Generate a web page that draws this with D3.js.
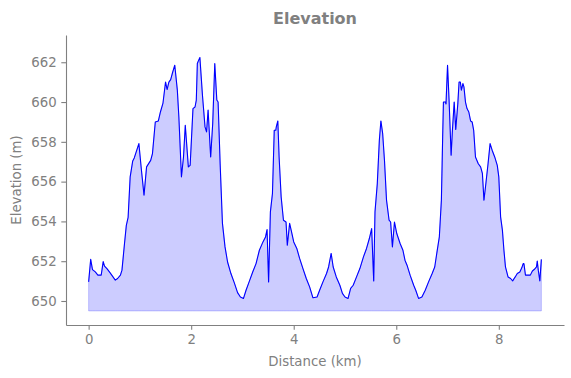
<!DOCTYPE html>
<html>
<head>
<meta charset="utf-8">
<script src="https://cdn.jsdelivr.net/npm/d3@7"></script>
<style>
  html, body { margin: 0; padding: 0; background: #fff; }
  svg { display: block; font-family: "DejaVu Sans", sans-serif; }
</style>
</head>
<body>
<svg id="chart" width="571" height="378"></svg>
<script>
const distanceKm = [0.00,0.04,0.075,0.13,0.18,0.245,0.284,0.31,0.357,0.42,0.52,0.565,0.62,0.65,0.70,0.735,0.77,0.81,0.86,0.89,0.98,1.03,1.08,1.13,1.21,1.245,1.30,1.36,1.40,1.45,1.50,1.53,1.565,1.60,1.64,1.68,1.73,1.76,1.81,1.85,1.885,1.945,1.98,2.035,2.075,2.10,2.12,2.14,2.17,2.22,2.27,2.30,2.33,2.38,2.42,2.46,2.50,2.525,2.565,2.61,2.66,2.71,2.775,2.84,2.905,2.96,3.02,3.07,3.13,3.20,3.265,3.33,3.40,3.45,3.48,3.51,3.545,3.585,3.62,3.65,3.66,3.69,3.715,3.755,3.80,3.85,3.875,3.92,3.95,4.00,4.06,4.115,4.18,4.245,4.31,4.375,4.455,4.505,4.57,4.64,4.68,4.73,4.77,4.83,4.90,4.95,5.00,5.06,5.11,5.16,5.225,5.29,5.36,5.42,5.475,5.52,5.56,5.585,5.63,5.67,5.70,5.735,5.77,5.81,5.86,5.89,5.925,5.965,6.01,6.075,6.13,6.17,6.21,6.27,6.34,6.38,6.435,6.50,6.565,6.63,6.70,6.75,6.79,6.84,6.88,6.905,6.92,6.96,6.97,7.00,7.03,7.07,7.095,7.13,7.16,7.20,7.225,7.25,7.27,7.30,7.32,7.35,7.38,7.415,7.45,7.48,7.51,7.545,7.60,7.645,7.68,7.71,7.74,7.79,7.83,7.87,7.92,7.97,8.00,8.035,8.07,8.10,8.13,8.18,8.23,8.27,8.32,8.36,8.41,8.45,8.475,8.49,8.52,8.57,8.615,8.655,8.69,8.735,8.75,8.77,8.80,8.83];
const elevationM = [650.96,652.09,651.58,651.46,651.30,651.30,651.98,651.75,651.63,651.41,651.05,651.13,651.30,651.55,652.90,653.80,654.20,656.24,657.04,657.19,657.91,656.57,655.32,656.74,657.07,657.41,659.00,659.05,659.50,659.95,661.01,660.63,661.00,661.13,661.51,661.85,660.60,659.25,656.24,657.24,658.83,656.74,656.82,659.67,659.75,660.10,661.94,662.07,662.24,660.34,658.75,658.50,659.60,657.24,658.92,661.93,660.10,660.00,656.90,653.90,652.72,651.96,651.38,650.92,650.42,650.20,650.13,650.54,650.96,651.46,651.88,652.55,652.97,653.22,653.59,650.96,654.48,655.40,658.58,658.58,658.75,659.05,657.24,655.23,654.06,653.97,652.80,653.90,653.56,652.97,652.64,652.14,651.63,651.13,650.71,650.16,650.20,650.54,650.96,651.38,651.71,652.39,651.71,651.21,650.79,650.38,650.20,650.13,650.63,650.79,651.21,651.63,652.22,652.64,653.14,653.64,651.01,654.48,655.90,658.08,659.05,658.41,657.07,655.07,654.06,653.97,652.72,653.97,653.39,652.89,652.55,652.05,651.80,651.30,650.79,650.54,650.13,650.20,650.54,650.96,651.38,651.71,652.39,653.22,655.07,658.25,660.00,660.00,659.90,661.85,660.10,657.33,658.58,660.00,658.62,659.90,661.01,661.01,660.60,660.93,660.76,660.00,659.67,659.50,659.05,659.00,658.58,657.24,656.90,656.74,656.41,655.07,655.73,656.90,657.91,657.58,657.24,656.82,656.24,654.23,653.56,652.55,651.71,651.21,651.13,651.01,651.21,651.38,651.46,651.68,651.88,651.88,651.30,651.30,651.30,651.51,651.58,651.71,652.01,651.55,651.01,652.09];
const fillBase = 649.5;
const xTicks = [0, 2, 4, 6, 8];
const yTicks = [650, 652, 654, 656, 658, 660, 662];
const titleText = "Elevation";
const xLabel = "Distance (km)";
const yLabel = "Elevation (m)";

const points = distanceKm.map((d, i) => ({ d, e: elevationM[i] }));

const svg = d3.select("#chart");
const mLeft = 66, mRight = 564, mTop = 35, mBottom = 325;
const gray = "#808080";

const x = d3.scaleLinear().domain([-0.4415, 9.2715]).range([mLeft, mRight]);
const y = d3.scaleLinear().domain([648.793, 663.37]).range([mBottom, mTop]);

// filled area
const area = d3.area().x(p => x(p.d)).y0(y(fillBase)).y1(p => y(p.e));
svg.append("path").datum(points)
  .attr("d", area)
  .attr("fill", "rgba(0,0,255,0.2)")
  .attr("stroke", "rgba(0,0,255,0.2)")
  .attr("stroke-width", 1);

// line
const line = d3.line().x(p => x(p.d)).y(p => y(p.e));
svg.append("path").datum(points)
  .attr("d", line)
  .attr("fill", "none")
  .attr("stroke", "#0000ff")
  .attr("stroke-width", 1.1)
  .attr("stroke-linejoin", "round");

// axes
const xAxis = svg.append("g").attr("transform", `translate(0,${mBottom})`)
  .call(d3.axisBottom(x).tickValues(xTicks).tickFormat(d3.format("d")).tickSize(4.7).tickPadding(4.5).tickSizeOuter(0));
const yAxis = svg.append("g").attr("transform", `translate(${mLeft},0)`)
  .call(d3.axisLeft(y).tickValues(yTicks).tickFormat(d3.format("d")).tickSize(4.7).tickPadding(4.7).tickSizeOuter(0));

[xAxis, yAxis].forEach(g => {
  g.select(".domain").attr("stroke", gray).attr("stroke-width", 1.1);
  g.selectAll(".tick line").attr("stroke", gray).attr("stroke-width", 1.1);
  g.selectAll(".tick text").attr("fill", gray).style("font-size", "13.3px").style("font-family", "DejaVu Sans, sans-serif");
});

svg.append("text")
  .attr("x", (mLeft + mRight) / 2).attr("y", 24)
  .attr("text-anchor", "middle")
  .attr("fill", gray)
  .style("font-size", "16px").style("font-weight", "bold")
  .text(titleText);

svg.append("text")
  .attr("x", (mLeft + mRight) / 2).attr("y", 366)
  .attr("text-anchor", "middle")
  .attr("fill", gray)
  .style("font-size", "13.3px")
  .text(xLabel);

svg.append("text")
  .attr("transform", `translate(21,${(mTop + mBottom) / 2}) rotate(-90)`)
  .attr("text-anchor", "middle")
  .attr("fill", gray)
  .style("font-size", "13.3px")
  .text(yLabel);
</script>
</body>
</html>
